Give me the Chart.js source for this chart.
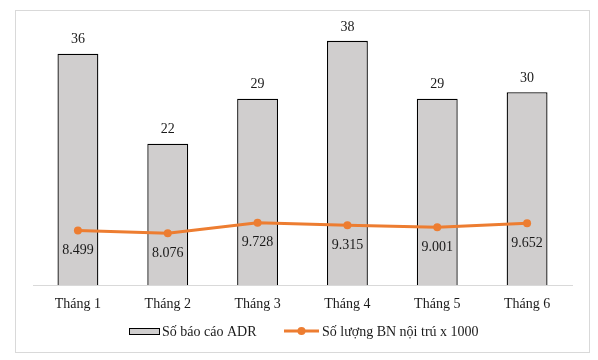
<!DOCTYPE html>
<html>
<head>
<meta charset="utf-8">
<script src="https://cdn.jsdelivr.net/npm/chart.js@4/dist/chart.umd.min.js"></script>
<style>
    html, body { margin: 0; padding: 0; background: #fff; }
    #wrap { position: relative; width: 598px; height: 360px; }
</style>
</head>
<body>
<div id="wrap"><canvas id="chart" width="598" height="360"></canvas></div>
<script>
// Dữ liệu
const categories = ['Tháng 1', 'Tháng 2', 'Tháng 3', 'Tháng 4', 'Tháng 5', 'Tháng 6'];
const adrReports = [36, 22, 29, 38, 29, 30];
const inpatients = [8.499, 8.076, 9.728, 9.315, 9.001, 9.652];
const seriesNames = ['Số báo cáo ADR', 'Số lượng BN nội trú x 1000'];

const FONT = '"Liberation Serif", "Times New Roman", serif';
const TEXT = '#1a1a1a';
const BAR_FILL = '#D0CECE';
const ORANGE = '#ED7D31';

// nhãn giá trị trên cột / dưới đường
const valueLabels = {
    id: 'valueLabels',
    afterDatasetsDraw(chart) {
        const ctx = chart.ctx;
        ctx.save();
        ctx.font = '14px ' + FONT;
        ctx.fillStyle = TEXT;
        ctx.textAlign = 'center';
        chart.getDatasetMeta(0).data.forEach((bar, i) => {
            ctx.textBaseline = 'bottom';
            ctx.fillText(String(adrReports[i]), bar.x, bar.y - 7);
        });
        chart.getDatasetMeta(1).data.forEach((pt, i) => {
            ctx.textBaseline = 'middle';
            ctx.fillText(inpatients[i].toFixed(3), pt.x, pt.y + 20);
        });
        ctx.restore();
    }
};

// khung viền + chú giải
const frameLegend = {
    id: 'frameLegend',
    afterDraw(chart) {
        const ctx = chart.ctx;
        ctx.save();
        ctx.strokeStyle = '#D9D9D9';
        ctx.lineWidth = 1;
        ctx.strokeRect(15.5, 10.5, 574, 342);

        const y = 331;
        ctx.fillStyle = BAR_FILL;
        ctx.fillRect(129, 328, 30, 6);
        ctx.strokeStyle = '#000';
        ctx.strokeRect(129.5, 328.5, 30, 6);

        ctx.font = '14px ' + FONT;
        ctx.fillStyle = TEXT;
        ctx.textBaseline = 'middle';
        ctx.textAlign = 'left';
        ctx.fillText(seriesNames[0], 162, y + 1);

        ctx.strokeStyle = ORANGE;
        ctx.lineWidth = 3;
        ctx.beginPath();
        ctx.moveTo(284, y);
        ctx.lineTo(319, y);
        ctx.stroke();
        ctx.fillStyle = ORANGE;
        ctx.beginPath();
        ctx.arc(301.5, y, 4, 0, Math.PI * 2);
        ctx.fill();

        ctx.fillStyle = TEXT;
        ctx.fillText(seriesNames[1], 322, y + 1);
        ctx.restore();
    }
};

new Chart(document.getElementById('chart'), {
    data: {
        labels: categories,
        datasets: [
            {
                type: 'bar',
                label: seriesNames[0],
                data: adrReports,
                backgroundColor: BAR_FILL,
                borderColor: '#000',
                borderWidth: 1.3,
                barPercentage: 0.455,
                categoryPercentage: 1,
                order: 2
            },
            {
                type: 'line',
                label: seriesNames[1],
                data: inpatients,
                borderColor: ORANGE,
                backgroundColor: ORANGE,
                borderWidth: 3,
                pointRadius: 4,
                pointBorderWidth: 0,
                tension: 0,
                order: 1
            }
        ]
    },
    options: {
        responsive: false,
        animation: false,
        layout: { padding: { left: 33, right: 26, top: 28, bottom: 44 } },
        plugins: { legend: { display: false }, tooltip: { enabled: false } },
        scales: {
            x: {
                grid: { display: false },
                border: { display: true, color: '#D9D9D9', width: 1 },
                ticks: { color: TEXT, font: { family: FONT, size: 14 }, padding: 3 }
            },
            y: {
                display: false,
                min: 0,
                max: 40
            }
        }
    },
    plugins: [valueLabels, frameLegend]
});
</script>
</body>
</html>
